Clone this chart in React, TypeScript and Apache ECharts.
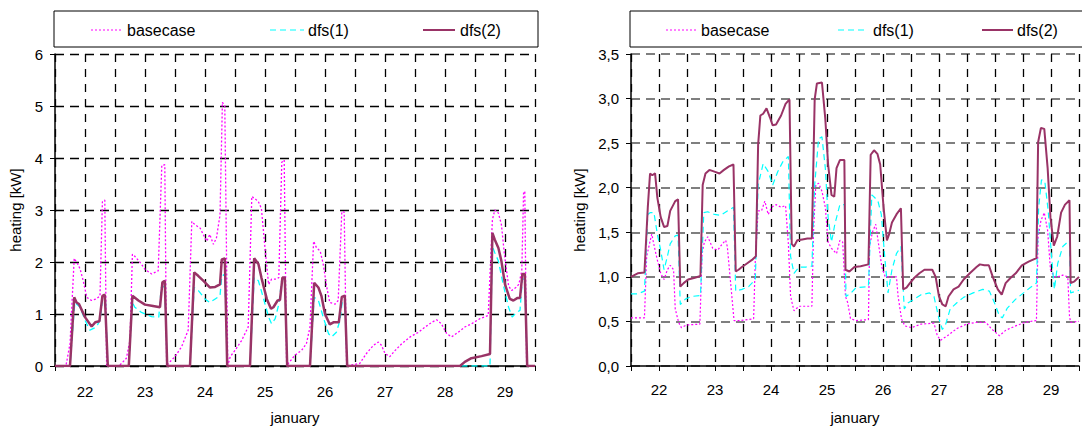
import React, { useEffect, useRef } from "react";
import * as echarts from "echarts";

type P = [number, number];

// ---------- left panel (0..6 kW) ----------
const leftBasecase: P[] = [
  [21.5, 0], [21.67, 0], [21.69, 0.05], [21.75, 0.43], [21.82, 2.07], [21.88, 1.96], [21.92, 1.86], [21.97, 1.64],
  [22.03, 1.32], [22.11, 1.26], [22.19, 1.29], [22.25, 1.35], [22.29, 3.16], [22.33, 3.19], [22.36, 0], [22.56, 0],
  [22.61, 0.05], [22.69, 0.15], [22.75, 0.5], [22.79, 2.15], [22.83, 2.11], [22.92, 1.99], [23.0, 1.86], [23.11, 1.77],
  [23.22, 1.83], [23.28, 3.86], [23.33, 3.87], [23.36, 0], [23.39, 0.05], [23.5, 0.18], [23.61, 0.37], [23.72, 0.69],
  [23.78, 2.78], [23.83, 2.72], [23.92, 2.65], [23.97, 2.53], [24.03, 2.4], [24.08, 2.53], [24.14, 2.34], [24.19, 2.46],
  [24.25, 2.9], [24.29, 5.07], [24.33, 5.0], [24.38, 0], [24.42, 0.18], [24.5, 0.3], [24.61, 0.49], [24.72, 0.75],
  [24.78, 3.26], [24.83, 3.22], [24.89, 3.16], [24.94, 3.03], [25.0, 2.27], [25.06, 1.57], [25.11, 1.67], [25.19, 1.67],
  [25.23, 1.7], [25.28, 3.92], [25.32, 3.96], [25.36, 0], [25.39, 0.05], [25.5, 0.21], [25.61, 0.3], [25.69, 0.43],
  [25.75, 0.75], [25.81, 2.4], [25.86, 2.27], [25.92, 2.21], [25.97, 1.96], [26.03, 1.51], [26.08, 1.22], [26.17, 1.19],
  [26.22, 1.26], [26.28, 2.97], [26.32, 2.96], [26.36, 0], [26.58, 0.05], [26.69, 0.24], [26.81, 0.4], [26.89, 0.46],
  [26.94, 0.4], [27.0, 0.24], [27.08, 0.18], [27.17, 0.3], [27.28, 0.43], [27.42, 0.56], [27.56, 0.65], [27.67, 0.75],
  [27.78, 0.84], [27.86, 0.89], [27.94, 0.81], [28.03, 0.62], [28.11, 0.56], [28.22, 0.65], [28.33, 0.75], [28.44, 0.81],
  [28.58, 0.91], [28.72, 0.97], [28.79, 2.81], [28.83, 3.0], [28.89, 2.94], [28.94, 2.72], [28.99, 2.15], [29.06, 1.54],
  [29.11, 1.45], [29.18, 1.51], [29.23, 1.57], [29.28, 1.83], [29.31, 3.35], [29.33, 3.35], [29.36, 0], [29.5, 0],
];

const leftDfs1: P[] = [
  [21.5, 0], [21.75, 0], [21.83, 1.22], [21.92, 1.13], [22.0, 0.88], [22.08, 0.69], [22.19, 0.75], [22.25, 0.88],
  [22.29, 1.26], [22.34, 1.26], [22.38, 0], [22.73, 0], [22.79, 1.22], [22.83, 1.13], [22.94, 1.03], [23.11, 0.95],
  [23.23, 0.94], [23.27, 1.51], [23.33, 1.53], [23.37, 0], [23.75, 0], [23.82, 1.51], [23.89, 1.45], [24.0, 1.29],
  [24.08, 1.22], [24.17, 1.29], [24.25, 1.35], [24.28, 1.73], [24.33, 1.77], [24.37, 0], [24.75, 0], [24.82, 1.7],
  [24.89, 1.64], [24.97, 1.32], [25.06, 0.94], [25.11, 0.81], [25.17, 0.91], [25.23, 1.19], [25.28, 1.67], [25.33, 1.67],
  [25.37, 0], [25.75, 0], [25.82, 1.32], [25.89, 1.26], [25.97, 0.94], [26.06, 0.62], [26.11, 0.56], [26.19, 0.65],
  [26.25, 0.88], [26.29, 1.26], [26.33, 1.26], [26.37, 0], [28.75, 0], [28.79, 2.3], [28.83, 2.18], [28.89, 2.02],
  [28.97, 1.57], [29.06, 1.13], [29.12, 0.94], [29.19, 1.03], [29.25, 1.07], [29.29, 1.67], [29.33, 1.67], [29.37, 0],
  [29.5, 0],
];

const leftDfs2: P[] = [
  [21.5, 0], [21.75, 0], [21.82, 1.32], [21.86, 1.22], [21.9, 1.19], [22.0, 0.94], [22.11, 0.76], [22.17, 0.84],
  [22.24, 0.86], [22.29, 1.35], [22.33, 1.37], [22.38, 0], [22.73, 0], [22.79, 1.35], [22.89, 1.26], [23.0, 1.18],
  [23.11, 1.16], [23.25, 1.13], [23.29, 1.61], [23.33, 1.64], [23.37, 0], [23.75, 0], [23.82, 1.8], [23.89, 1.73],
  [23.97, 1.64], [24.08, 1.51], [24.17, 1.52], [24.25, 1.57], [24.28, 2.05], [24.33, 2.07], [24.37, 0], [24.75, 0],
  [24.82, 2.07], [24.89, 1.96], [24.94, 1.7], [25.03, 1.29], [25.1, 1.1], [25.14, 1.13], [25.21, 1.26], [25.25, 1.27],
  [25.29, 1.7], [25.33, 1.7], [25.37, 0], [25.75, 0], [25.82, 1.6], [25.89, 1.51], [25.94, 1.35], [26.0, 1.0],
  [26.08, 0.8], [26.14, 0.84], [26.23, 0.84], [26.28, 1.33], [26.33, 1.35], [26.37, 0], [28.25, 0], [28.33, 0.08],
  [28.44, 0.15], [28.61, 0.19], [28.75, 0.23], [28.79, 2.56], [28.83, 2.43], [28.89, 2.27], [28.94, 2.02], [29.0, 1.57],
  [29.08, 1.29], [29.14, 1.26], [29.21, 1.31], [29.25, 1.31], [29.29, 1.77], [29.33, 1.77], [29.37, 0], [29.5, 0],
];

// ---------- right panel (0..3,5 kW) ----------
const rightBasecase: P[] = [
  [21.5, 0.54], [21.74, 0.54], [21.78, 1.23], [21.83, 1.37], [21.87, 1.48], [21.93, 1.3], [21.97, 1.19], [22.03, 1.04],
  [22.09, 0.97], [22.15, 1.08], [22.2, 1.13], [22.26, 1.08], [22.29, 0.64], [22.35, 0.49], [22.4, 0.43], [22.49, 0.46],
  [22.73, 0.47], [22.77, 1.26], [22.81, 1.39], [22.87, 1.45], [22.96, 1.32], [23.05, 1.3], [23.13, 1.37], [23.19, 1.41],
  [23.22, 1.34], [23.34, 0.51], [23.45, 0.51], [23.69, 0.53], [23.72, 1.2], [23.77, 1.74], [23.83, 1.74], [23.89, 1.85],
  [23.95, 1.7], [24.01, 1.78], [24.09, 1.81], [24.18, 1.78], [24.26, 1.8], [24.31, 1.37], [24.35, 0.78], [24.41, 0.62],
  [24.5, 0.67], [24.73, 0.67], [24.76, 1.52], [24.8, 2.03], [24.85, 2.05], [24.91, 1.96], [24.97, 1.78], [25.02, 1.39],
  [25.08, 1.32], [25.17, 1.26], [25.23, 1.41], [25.28, 1.39], [25.33, 0.78], [25.37, 0.71], [25.42, 0.53], [25.52, 0.51],
  [25.74, 0.52], [25.76, 1.34], [25.81, 1.5], [25.87, 1.59], [25.92, 1.37], [25.98, 1.11], [26.04, 1.0], [26.16, 1.0],
  [26.24, 1.0], [26.27, 0.78], [26.33, 0.53], [26.39, 0.45], [26.51, 0.43], [26.68, 0.47], [26.91, 0.48], [26.97, 0.34],
  [27.03, 0.29], [27.15, 0.34], [27.32, 0.42], [27.49, 0.47], [27.67, 0.49], [27.84, 0.49], [27.93, 0.42], [28.08, 0.34],
  [28.19, 0.4], [28.37, 0.45], [28.54, 0.49], [28.74, 0.51], [28.77, 1.45], [28.82, 1.63], [28.88, 1.72], [28.94, 1.52],
  [28.99, 1.08], [29.06, 1.0], [29.12, 1.0], [29.21, 1.02], [29.3, 1.0], [29.33, 0.56], [29.35, 0.49], [29.5, 0.5],
];

const rightDfs1: P[] = [
  [21.5, 0.81], [21.62, 0.81], [21.74, 0.84], [21.8, 1.7], [21.84, 1.72], [21.91, 1.72], [21.97, 1.48], [22.03, 1.3],
  [22.09, 1.08], [22.15, 1.23], [22.2, 1.37], [22.29, 1.46], [22.34, 1.47], [22.38, 0.69], [22.47, 0.75], [22.58, 0.78],
  [22.74, 0.79], [22.8, 1.72], [22.87, 1.73], [22.99, 1.7], [23.1, 1.69], [23.22, 1.74], [23.33, 1.78], [23.37, 0.84],
  [23.48, 0.86], [23.6, 0.89], [23.72, 0.97], [23.77, 2.03], [23.86, 2.27], [23.95, 2.18], [24.03, 2.03], [24.12, 2.18],
  [24.21, 2.29], [24.31, 2.35], [24.35, 1.23], [24.41, 1.04], [24.5, 1.11], [24.62, 1.11], [24.73, 1.12], [24.78, 2.03],
  [24.85, 2.55], [24.91, 2.57], [24.97, 2.22], [25.02, 1.67], [25.08, 1.39], [25.14, 1.59], [25.23, 1.81], [25.31, 1.81],
  [25.34, 0.78], [25.43, 0.82], [25.52, 0.88], [25.74, 0.89], [25.8, 1.92], [25.85, 1.89], [25.91, 1.85], [25.97, 1.7],
  [26.03, 1.23], [26.09, 0.82], [26.16, 1.08], [26.24, 1.26], [26.32, 1.34], [26.38, 0.64], [26.45, 0.71], [26.56, 0.75],
  [26.68, 0.8], [26.83, 0.82], [26.91, 0.78], [27.0, 0.53], [27.06, 0.41], [27.12, 0.47], [27.2, 0.64], [27.32, 0.71],
  [27.44, 0.77], [27.61, 0.82], [27.78, 0.86], [27.9, 0.84], [27.99, 0.71], [28.08, 0.56], [28.13, 0.54], [28.22, 0.65],
  [28.37, 0.75], [28.51, 0.82], [28.63, 0.88], [28.74, 0.93], [28.78, 1.78], [28.83, 2.09], [28.89, 2.07], [28.95, 1.74],
  [29.01, 1.23], [29.06, 0.86], [29.12, 1.15], [29.21, 1.34], [29.33, 1.41], [29.35, 0.82], [29.5, 0.85],
];

const rightDfs2: P[] = [
  [21.5, 1.0], [21.56, 1.02], [21.62, 1.04], [21.74, 1.05], [21.8, 1.78], [21.84, 2.16], [21.88, 2.14], [21.93, 2.16],
  [21.97, 1.89], [22.03, 1.67], [22.09, 1.56], [22.15, 1.57], [22.2, 1.74], [22.29, 1.85], [22.34, 1.87], [22.38, 0.89],
  [22.44, 0.93], [22.52, 0.97], [22.64, 0.99], [22.74, 1.01], [22.78, 2.03], [22.83, 2.16], [22.9, 2.2], [22.99, 2.18],
  [23.08, 2.16], [23.16, 2.2], [23.25, 2.24], [23.33, 2.26], [23.37, 1.06], [23.42, 1.08], [23.48, 1.11], [23.57, 1.15],
  [23.66, 1.19], [23.73, 1.23], [23.77, 2.48], [23.81, 2.81], [23.86, 2.83], [23.92, 2.89], [23.98, 2.79], [24.03, 2.7],
  [24.09, 2.71], [24.18, 2.81], [24.26, 2.94], [24.33, 2.99], [24.37, 1.37], [24.41, 1.34], [24.47, 1.41], [24.56, 1.42],
  [24.65, 1.43], [24.73, 1.43], [24.78, 2.99], [24.82, 3.17], [24.91, 3.18], [24.97, 2.77], [25.02, 2.26], [25.08, 1.92],
  [25.13, 1.9], [25.17, 2.22], [25.23, 2.31], [25.31, 2.31], [25.33, 1.08], [25.4, 1.06], [25.49, 1.11], [25.6, 1.12],
  [25.74, 1.14], [25.78, 2.37], [25.84, 2.42], [25.9, 2.38], [25.95, 2.26], [26.01, 1.78], [26.07, 1.41], [26.11, 1.48],
  [26.16, 1.61], [26.24, 1.7], [26.32, 1.77], [26.36, 0.86], [26.42, 0.88], [26.48, 0.93], [26.56, 0.99], [26.65, 1.04],
  [26.74, 1.08], [26.83, 1.08], [26.88, 1.08], [26.94, 1.0], [27.0, 0.78], [27.06, 0.69], [27.12, 0.67], [27.17, 0.78],
  [27.26, 0.86], [27.35, 0.89], [27.44, 0.97], [27.55, 1.04], [27.67, 1.11], [27.73, 1.14], [27.81, 1.13], [27.89, 1.13],
  [27.96, 1.0], [28.05, 0.86], [28.12, 0.8], [28.19, 0.93], [28.28, 0.99], [28.37, 1.04], [28.48, 1.13], [28.6, 1.17],
  [28.74, 1.21], [28.77, 2.51], [28.82, 2.67], [28.88, 2.66], [28.94, 2.22], [28.99, 1.67], [29.05, 1.35], [29.11, 1.45],
  [29.18, 1.72], [29.25, 1.81], [29.33, 1.86], [29.35, 0.93], [29.42, 0.95], [29.5, 1.0],
];

const seriesNames = ["basecase", "dfs(1)", "dfs(2)"];
const xAxisName = "january";
const yAxisName = "heating [kW]";

const FONT = "'Liberation Sans', Arial, sans-serif";
const C_BASE = "#FF00FF";
const C_DFS1 = "#00FFFF";
const C_DFS2 = "#993366";

export default function App() {
  const ref = useRef<HTMLDivElement>(null);

  useEffect(() => {
    if (!ref.current) return;
    const chart = echarts.init(ref.current, null, { renderer: "svg" });

    const xAxisCommon = (gridIndex: number, labelMargin: number) => ({
      type: "value",
      gridIndex,
      min: 21.5,
      max: 29.5,
      interval: 0.5,
      name: xAxisName,
      nameLocation: "middle",
      nameGap: 44,
      nameTextStyle: { fontFamily: FONT, fontSize: 15, color: "#000" },
      axisLine: { show: true, lineStyle: { color: "#000", width: 1.5 } },
      axisTick: { show: true, length: 5, lineStyle: { color: "#000" } },
      axisLabel: {
        margin: labelMargin,
        fontFamily: FONT,
        fontSize: 15,
        color: "#000",
        formatter: (v: number) => (Number.isInteger(v) ? String(v) : ""),
      },
      splitLine: { show: true, lineStyle: { color: "#000", type: [8, 7], width: 1.3 } },
    });

    const yAxisCommon = (gridIndex: number, max: number, interval: number, gap: number, fmt: (v: number) => string, gridColor: string, gridWidth: number) => ({
      type: "value",
      gridIndex,
      min: 0,
      max,
      interval,
      name: yAxisName,
      nameLocation: "middle",
      nameGap: gap,
      nameTextStyle: { fontFamily: FONT, fontSize: 15, color: "#000" },
      axisLine: { show: true, lineStyle: { color: "#000", width: 1.5 } },
      axisTick: { show: true, length: 5, lineStyle: { color: "#000" } },
      axisLabel: { margin: 12, fontFamily: FONT, fontSize: 15, color: "#000", formatter: fmt },
      splitLine: { show: true, lineStyle: { color: gridColor, type: [9, 6], width: gridWidth } },
    });

    const line = (name: string, data: P[], idx: number, color: string, width: number, type: any) => ({
      name,
      type: "line",
      xAxisIndex: idx,
      yAxisIndex: idx,
      data,
      showSymbol: false,
      symbol: "none",
      clip: true,
      lineStyle: { color, width, type },
      itemStyle: { color },
    });

    const legendBox = (x0: number, w: number, items: { x1: number; x2: number; tx: number }[]) => {
      const els: any[] = [
        { type: "rect", shape: { x: x0, y: 11, width: w, height: 36 }, style: { fill: "#fff", stroke: "#000", lineWidth: 1 }, z: 10 },
      ];
      const styles = [
        { stroke: C_BASE, lineWidth: 1, lineDash: [2, 2] },
        { stroke: C_DFS1, lineWidth: 1, lineDash: [6, 4] },
        { stroke: C_DFS2, lineWidth: 2 },
      ];
      items.forEach((it, i) => {
        els.push({ type: "line", shape: { x1: it.x1, y1: 30, x2: it.x2, y2: 30 }, style: styles[i], z: 11 });
        els.push({
          type: "text",
          x: it.tx,
          y: 30,
          style: { text: seriesNames[i], fontFamily: FONT, fontSize: 16, fill: "#000", verticalAlign: "middle", align: "left" },
          z: 11,
        });
      });
      return els;
    };

    const option: any = {
      animation: false,
      backgroundColor: "#fff",
      grid: [
        { left: 55, top: 54, width: 480, height: 315 },
        { left: 631, top: 54, width: 459, height: 317 },
      ],
      xAxis: [xAxisCommon(0, 18), xAxisCommon(1, 16)],
      yAxis: [
        yAxisCommon(0, 6, 1, 32, (v: number) => String(v), "#000", 1.3),
        yAxisCommon(1, 3.5, 0.5, 44, (v: number) => v.toFixed(1).replace(".", ","), "#555", 1.6),
      ],
      series: [
        line(seriesNames[0], leftBasecase, 0, C_BASE, 1.3, [2, 2]),
        line(seriesNames[1], leftDfs1, 0, C_DFS1, 1.3, [6, 4]),
        line(seriesNames[2], leftDfs2, 0, C_DFS2, 2.5, "solid"),
        line(seriesNames[0], rightBasecase, 1, C_BASE, 1.2, [2, 2]),
        line(seriesNames[1], rightDfs1, 1, C_DFS1, 1.2, [6, 4]),
        line(seriesNames[2], rightDfs2, 1, C_DFS2, 2, "solid"),
      ],
      graphic: [
        ...legendBox(54, 484, [
          { x1: 91, x2: 122, tx: 127 },
          { x1: 270, x2: 304, tx: 308 },
          { x1: 423, x2: 455, tx: 460 },
        ]),
        ...legendBox(630, 470, [
          { x1: 666, x2: 697, tx: 701 },
          { x1: 838, x2: 868, tx: 873 },
          { x1: 982, x2: 1013, tx: 1017 },
        ]),
      ],
    };

    chart.setOption(option);
    return () => chart.dispose();
  }, []);

  return (
    <div
      ref={ref}
      style={{ position: "fixed", left: 0, top: 0, width: 1082, height: 430, background: "#fff", overflow: "hidden" }}
    />
  );
}
